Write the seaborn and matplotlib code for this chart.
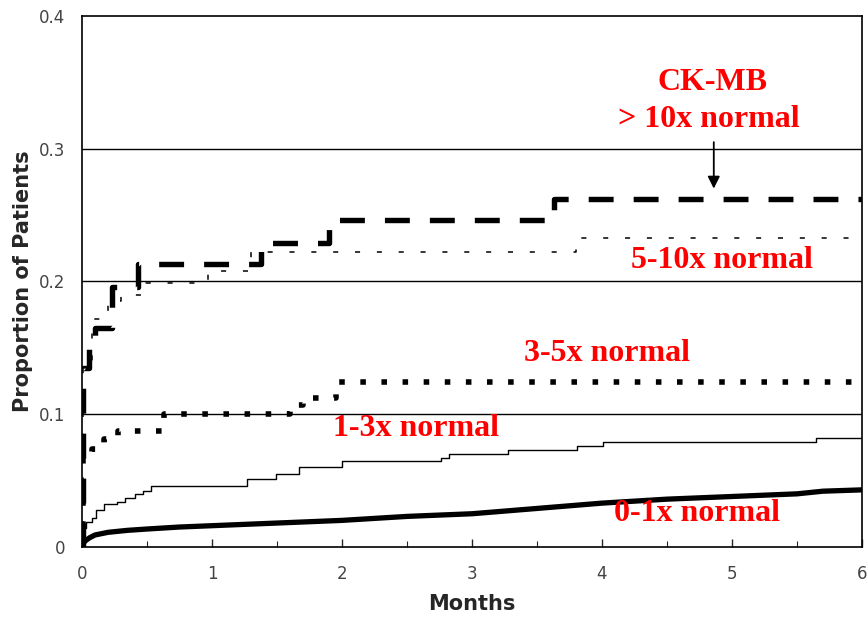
import matplotlib
matplotlib.use("Agg")
import matplotlib.pyplot as plt
import seaborn as sns
import numpy as np

# ---- data (months, cumulative proportion of patients) ----
gt10_months = [0, 0.01, 0.05, 0.10, 0.23, 0.43, 1.38, 1.90, 3.63, 6.0]
gt10_vals   = [0, 0.135, 0.152, 0.165, 0.196, 0.213, 0.229, 0.246, 0.262, 0.262]

r5_10_months = [0, 0.01, 0.08, 0.20, 0.30, 0.49, 0.97, 1.30, 3.80, 6.0]
r5_10_vals   = [0, 0.140, 0.172, 0.185, 0.190, 0.199, 0.208, 0.222, 0.233, 0.233]

r3_5_months = [0, 0.01, 0.08, 0.17, 0.28, 0.63, 1.60, 1.70, 1.95, 6.0]
r3_5_vals   = [0, 0.068, 0.074, 0.081, 0.087, 0.100, 0.107, 0.112, 0.124, 0.124]

r1_3_months = [0, 0.005, 0.03, 0.08, 0.11, 0.17, 0.27, 0.33, 0.41, 0.47, 0.53,
               1.27, 1.49, 1.67, 2.00, 2.76, 2.82, 3.28, 3.81, 4.01, 5.65, 6.0]
r1_3_vals   = [0, 0.014, 0.019, 0.022, 0.028, 0.032, 0.034, 0.037, 0.040, 0.042, 0.046,
               0.051, 0.055, 0.060, 0.065, 0.067, 0.070, 0.073, 0.076, 0.079, 0.082, 0.082]

r0_1_months = [0, 0.01, 0.03, 0.06, 0.10, 0.20, 0.35, 0.50, 0.75, 1.0, 1.5, 2.0, 2.5,
               3.0, 3.5, 4.0, 4.5, 5.0, 5.5, 5.7, 6.0]
r0_1_vals   = [0, 0.003, 0.005, 0.007, 0.009, 0.011, 0.0125, 0.0135, 0.015, 0.016, 0.018,
               0.020, 0.023, 0.025, 0.029, 0.033, 0.036, 0.038, 0.040, 0.042, 0.043]

x_ticks = [0, 1, 2, 3, 4, 5, 6]
y_ticks = [0, 0.1, 0.2, 0.3, 0.4]
y_tick_labels = ["0", "0.1", "0.2", "0.3", "0.4"]

sns.set_style("white")
plt.rcParams['font.family'] = ['DejaVu Sans']

fig = plt.figure(figsize=(8.67, 6.18), dpi=100)
ax = fig.add_axes([0.0946, 0.115, 0.8996, 0.859])

# grid lines
for gy in [0.1, 0.2, 0.3]:
    ax.axhline(gy, color="black", lw=1.0, zorder=1)

common = dict(ax=ax, estimator=None, sort=False, color="black",
              drawstyle="steps-post", legend=False, zorder=3)

sns.lineplot(x=gt10_months, y=gt10_vals, lw=3.9,
             linestyle=(0, (4.6, 3.7)), dash_capstyle="butt", **common)
sns.lineplot(x=r5_10_months, y=r5_10_vals, lw=1.1,
             linestyle=(0, (3.3, 11)), **common)
sns.lineplot(x=r3_5_months, y=r3_5_vals, lw=4.0,
             linestyle=(0, (1.0, 2.8)), dash_capstyle="butt", **common)
sns.lineplot(x=r1_3_months, y=r1_3_vals, lw=1.0, **common)
sns.lineplot(x=r0_1_months, y=r0_1_vals, lw=3.8, ax=ax, estimator=None,
             sort=False, color="black", legend=False, zorder=3)

ax.set_xlim(0, 6)
ax.set_ylim(0, 0.4)
ax.set_xticks(x_ticks)
ax.set_xticklabels([str(t) for t in x_ticks])
ax.set_xticks([0.5, 1.5, 2.5, 3.5, 4.5, 5.5], minor=True)
ax.set_yticks(y_ticks)
ax.set_yticklabels(y_tick_labels)

for s in ax.spines.values():
    s.set_color("black")
    s.set_linewidth(1.2)

ax.tick_params(axis="x", which="major", direction="in", length=6, width=1,
               pad=13, labelsize=12, labelcolor="#444444", bottom=True)
ax.tick_params(axis="x", which="minor", direction="in", length=4, width=0.8,
               bottom=True)
ax.tick_params(axis="y", which="major", direction="in", length=0, pad=12,
               labelsize=12, labelcolor="#444444", left=True)

ax.set_xlabel("Months", fontsize=15, fontweight="bold", labelpad=8)
ax.set_ylabel("Proportion of Patients", fontsize=15, fontweight="bold", labelpad=4)

red = "#ff0000"
tfont = dict(family=["Liberation Serif", "DejaVu Serif"], fontweight="bold",
             fontsize=23, color=red, ha="center", va="center")
ax.text(4.85, 0.350, "CK-MB", **tfont)
ax.text(4.82, 0.322, "> 10x normal", **tfont)
ax.text(4.92, 0.216, "5-10x normal", **tfont)
ax.text(4.04, 0.146, "3-5x normal", **tfont)
ax.text(2.57, 0.089, "1-3x normal", **tfont)
ax.text(4.73, 0.025, "0-1x normal", **tfont)

ax.annotate("", xy=(4.86, 0.270), xytext=(4.86, 0.305),
            arrowprops=dict(arrowstyle="-|>", color="black", lw=1.3,
                            mutation_scale=18, shrinkA=0, shrinkB=0))

fig.savefig("out.png", dpi=100)
